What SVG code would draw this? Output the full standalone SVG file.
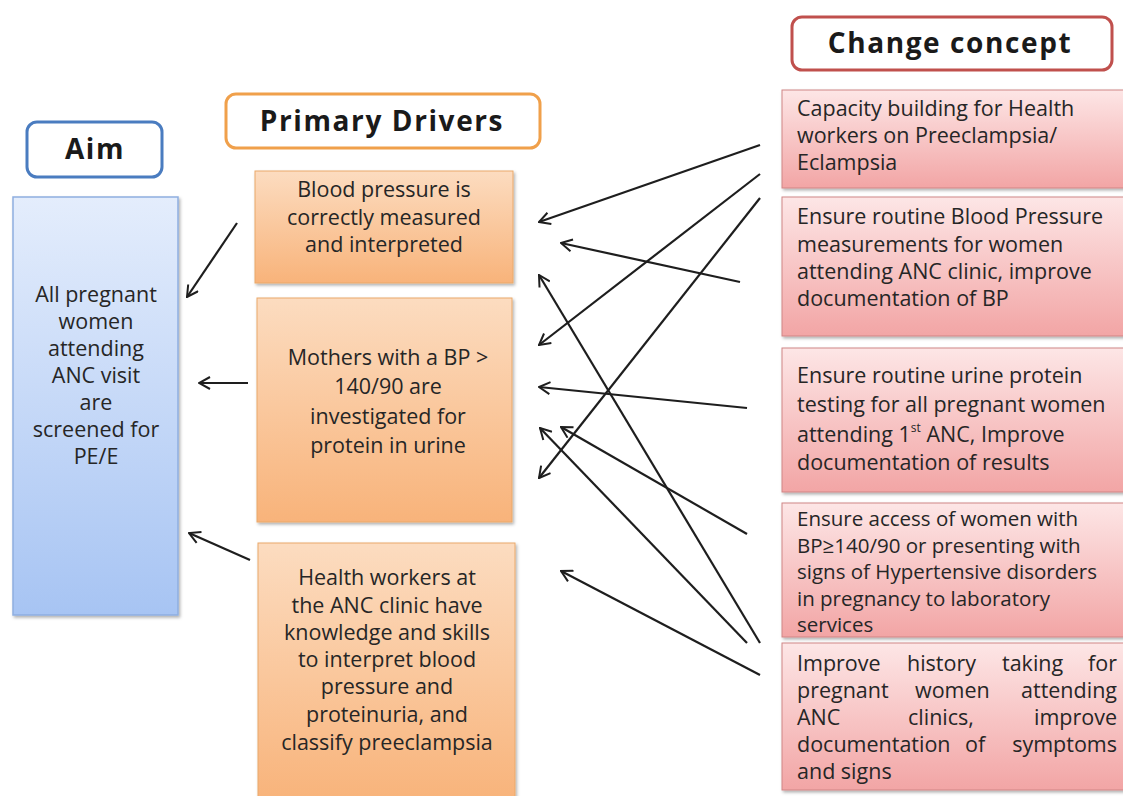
<svg xmlns="http://www.w3.org/2000/svg" width="1123" height="796" viewBox="0 0 1123 796">
<style>
.t{font-family:"Open Sans","Liberation Sans",sans-serif;font-size:21.5px;fill:#262626}
.s{font-size:20.5px}
.c{text-anchor:middle}
.e{text-anchor:end}
.h{font-family:"Open Sans","Liberation Sans",sans-serif;font-size:28px;font-weight:bold;letter-spacing:1.6px;fill:#1a1a1a;text-anchor:middle}
.hdr{fill:#fff;stroke-width:3}
.con line{stroke:#1e1e1e;stroke-width:2.2;marker-end:url(#arr)}
</style>
<defs>
<linearGradient id="gb" x1="0" y1="0" x2="0" y2="1"><stop offset="0" stop-color="#e4edfc"/><stop offset="1" stop-color="#a7c4f3"/></linearGradient>
<linearGradient id="go" x1="0" y1="0" x2="0" y2="1"><stop offset="0" stop-color="#fcdcc0"/><stop offset="1" stop-color="#f8b37a"/></linearGradient>
<linearGradient id="gp" x1="0" y1="0" x2="0" y2="1"><stop offset="0" stop-color="#fde6e6"/><stop offset="1" stop-color="#f2a5a5"/></linearGradient>
<filter id="sh" x="-5%" y="-5%" width="115%" height="115%"><feDropShadow dx="1.5" dy="2" stdDeviation="1.5" flood-color="#000" flood-opacity="0.3"/></filter>
<marker id="arr" viewBox="0 0 14 14" refX="13" refY="7" markerWidth="14" markerHeight="14" markerUnits="userSpaceOnUse" orient="auto"><path d="M2,1 L13,7 L2,13" fill="none" stroke="#1e1e1e" stroke-width="2"/></marker>
</defs>
<rect width="1123" height="796" fill="#fff"/>

<g id="aim-header"><rect class="hdr" x="27" y="122" width="135" height="55" rx="10" stroke="#4a7cc0"/><text class="h" x="95" y="159">Aim</text></g>
<g id="aim"><rect x="13" y="197" width="165" height="418" fill="url(#gb)" stroke="#8eaee0" stroke-width="1.5" filter="url(#sh)"/>
<text class="t c" x="96" y="302">All pregnant</text><text class="t c" x="96" y="329">women</text><text class="t c" x="96" y="356">attending</text><text class="t c" x="96" y="383">ANC visit</text><text class="t c" x="96" y="410">are</text><text class="t c" x="96" y="437">screened for</text><text class="t c" x="96" y="464">PE/E</text></g>

<g id="pd-header"><rect class="hdr" x="226" y="94" width="314" height="54" rx="10" stroke="#f0a04b"/><text class="h" x="382" y="131">Primary Drivers</text></g>
<g id="pd1"><rect x="255" y="171" width="258" height="112" fill="url(#go)" stroke="#eaa86a" stroke-width="1" filter="url(#sh)"/>
<text class="t c" x="384" y="197">Blood pressure is</text><text class="t c" x="384" y="225">correctly measured</text><text class="t c" x="384" y="252">and interpreted</text></g>
<g id="pd2"><rect x="257" y="298" width="255" height="224" fill="url(#go)" stroke="#eaa86a" stroke-width="1" filter="url(#sh)"/>
<text class="t c" x="388" y="365">Mothers with a BP &gt;</text><text class="t c" x="388" y="394">140/90 are</text><text class="t c" x="388" y="424">investigated for</text><text class="t c" x="388" y="453">protein in urine</text></g>
<g id="pd3"><rect x="258" y="543" width="257" height="260" fill="url(#go)" stroke="#eaa86a" stroke-width="1" filter="url(#sh)"/>
<text class="t c" x="387" y="585">Health workers at</text><text class="t c" x="387" y="613">the ANC clinic have</text><text class="t c" x="387" y="640">knowledge and skills</text><text class="t c" x="387" y="667">to interpret blood</text><text class="t c" x="387" y="694">pressure and</text><text class="t c" x="387" y="722">proteinuria, and</text><text class="t c" x="387" y="750">classify preeclampsia</text></g>

<g id="cc-header"><rect class="hdr" x="792" y="17" width="320" height="53" rx="10" stroke="#c0504d"/><text class="h" x="950" y="53">Change concept</text></g>
<g id="cc1"><rect x="782" y="90" width="350" height="98" fill="url(#gp)" stroke="#d08585" stroke-width="1" filter="url(#sh)"/>
<text class="t" x="797" y="116">Capacity building for Health</text><text class="t" x="797" y="143">workers on Preeclampsia/</text><text class="t" x="797" y="170">Eclampsia</text></g>
<g id="cc2"><rect x="782" y="197" width="350" height="139" fill="url(#gp)" stroke="#d08585" stroke-width="1" filter="url(#sh)"/>
<text class="t" x="797" y="224">Ensure routine Blood Pressure</text><text class="t" x="797" y="252">measurements for women</text><text class="t" x="797" y="279">attending ANC clinic, improve</text><text class="t" x="797" y="306">documentation of BP</text></g>
<g id="cc3"><rect x="782" y="348" width="350" height="144" fill="url(#gp)" stroke="#d08585" stroke-width="1" filter="url(#sh)"/>
<text class="t" x="797" y="383">Ensure routine urine protein</text><text class="t" x="797" y="412">testing for all pregnant women</text><text class="t" x="797" y="442">attending 1<tspan font-size="12" dy="-10">st</tspan><tspan dy="10"> ANC, Improve</tspan></text><text class="t" x="797" y="470">documentation of results</text></g>
<g id="cc4"><rect x="782" y="503" width="350" height="134" fill="url(#gp)" stroke="#d08585" stroke-width="1" filter="url(#sh)"/>
<text class="t s" x="797" y="526">Ensure access of women with</text><text class="t s" x="797" y="552.5">BP≥140/90 or presenting with</text><text class="t s" x="797" y="579">signs of Hypertensive disorders</text><text class="t s" x="797" y="605.5">in pregnancy to laboratory</text><text class="t s" x="797" y="632">services</text></g>
<g id="cc5"><rect x="782" y="643" width="350" height="147" fill="url(#gp)" stroke="#d08585" stroke-width="1" filter="url(#sh)"/>
<text class="t" x="797" y="671">Improve</text><text class="t" x="907" y="671">history</text><text class="t" x="1002" y="671">taking</text><text class="t e" x="1117" y="671">for</text>
<text class="t" x="797" y="698">pregnant</text><text class="t" x="915" y="698">women</text><text class="t e" x="1117" y="698">attending</text>
<text class="t" x="797" y="725">ANC</text><text class="t" x="908" y="725">clinics,</text><text class="t e" x="1117" y="725">improve</text>
<text class="t" x="797" y="752">documentation</text><text class="t" x="965" y="752">of</text><text class="t e" x="1117" y="752">symptoms</text>
<text class="t" x="797" y="779">and signs</text></g>

<g id="connectors" class="con">
<line x1="237" y1="223" x2="187" y2="297"/>
<line x1="248" y1="383" x2="199" y2="383"/>
<line x1="250" y1="560" x2="189" y2="533"/>
<line x1="760" y1="145" x2="539" y2="222"/>
<line x1="760" y1="174" x2="539" y2="345"/>
<line x1="760" y1="198" x2="539" y2="478"/>
<line x1="740" y1="282" x2="561" y2="243"/>
<line x1="747" y1="408" x2="539" y2="387"/>
<line x1="760" y1="643" x2="539" y2="275"/>
<line x1="747" y1="643" x2="540" y2="428"/>
<line x1="747" y1="534" x2="561" y2="427"/>
<line x1="760" y1="675" x2="561" y2="571"/>
</g>
</svg>
